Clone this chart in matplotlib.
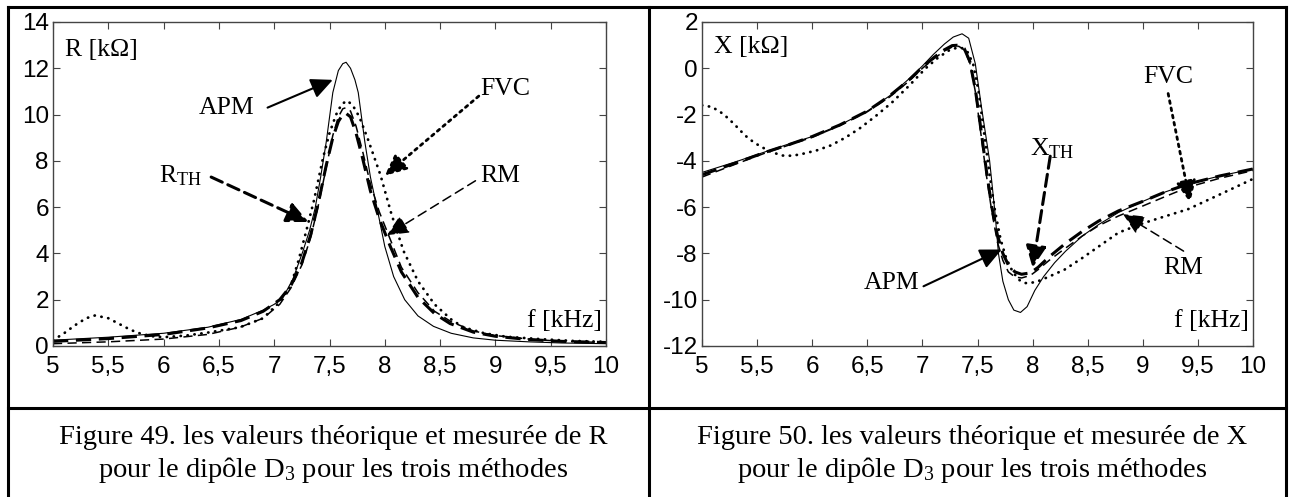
import matplotlib
matplotlib.use("Agg")
import matplotlib.pyplot as plt
from matplotlib.lines import Line2D

plt.rcParams['mathtext.fontset'] = 'custom'
plt.rcParams['mathtext.rm'] = 'Liberation Serif'
plt.rcParams['mathtext.it'] = 'Liberation Serif:italic'
plt.rcParams['axes.unicode_minus'] = False

# ---- data ----
freq_ticks = [5, 5.5, 6, 6.5, 7, 7.5, 8, 8.5, 9, 9.5, 10]
freq_labels = ["5", "5,5", "6", "6,5", "7", "7,5", "8", "8,5", "9", "9,5", "10"]
r_ticks = [0, 2, 4, 6, 8, 10, 12, 14]
x_ticks = [2, 0, -2, -4, -6, -8, -10, -12]

# R [kOhm]
f_r_apm = [5.0, 5.5, 6.0, 6.4, 6.7, 6.9, 7.0, 7.08, 7.17, 7.26, 7.32, 7.37, 7.42, 7.47, 7.53,
           7.58, 7.62, 7.65, 7.69, 7.73, 7.76, 7.82, 7.87, 7.93, 8.0, 8.08, 8.18, 8.3, 8.44,
           8.6, 8.8, 9.0, 9.3, 9.6, 10.0]
r_apm = [0.25, 0.38, 0.55, 0.81, 1.15, 1.55, 1.8, 2.1, 2.9, 4.1, 5.0, 5.95, 7.3, 8.8, 10.95,
         11.9, 12.2, 12.26, 12.0, 11.5, 10.95, 8.8, 7.3, 5.95, 4.3, 3.0, 2.0, 1.3, 0.85,
         0.55, 0.35, 0.25, 0.18, 0.13, 0.1]

f_r_th = [5.0, 5.5, 6.0, 6.4, 6.7, 6.9, 7.05, 7.15, 7.25, 7.33, 7.4, 7.47, 7.53, 7.58, 7.62,
          7.65, 7.69, 7.74, 7.8, 7.87, 7.95, 8.05, 8.15, 8.3, 8.45, 8.59, 8.8, 9.0, 9.3, 9.6, 10.0]
r_th = [0.2, 0.32, 0.5, 0.78, 1.1, 1.5, 2.0, 2.6, 3.6, 4.8, 6.2, 7.8, 9.0, 9.7, 10.0,
        10.05, 9.9, 9.2, 8.1, 6.7, 5.5, 4.3, 3.2, 2.1, 1.4, 0.97, 0.6, 0.42, 0.28, 0.2, 0.15]

f_r_rm = [5.0, 5.5, 6.0, 6.4, 6.69, 6.9, 7.05, 7.15, 7.25, 7.33, 7.4, 7.47, 7.53, 7.58, 7.62,
          7.65, 7.69, 7.74, 7.8, 7.87, 7.95, 8.05, 8.15, 8.3, 8.45, 8.6, 8.8, 9.0, 9.3, 9.6, 10.0]
r_rm = [0.1, 0.18, 0.3, 0.5, 0.81, 1.2, 1.8, 2.5, 3.5, 4.7, 6.1, 7.7, 9.1, 9.9, 10.25,
        10.3, 10.15, 9.5, 8.4, 7.0, 5.8, 4.6, 3.4, 2.3, 1.5, 1.05, 0.65, 0.45, 0.3, 0.2, 0.15]

f_r_fvc = [5.0, 5.1, 5.2, 5.3, 5.38, 5.5, 5.6, 5.7, 5.8, 5.9, 6.0, 6.2, 6.4, 6.69, 6.9, 7.05,
           7.15, 7.22, 7.29, 7.36, 7.44, 7.5, 7.56, 7.61, 7.66, 7.71, 7.77, 7.85, 7.96, 8.06,
           8.17, 8.3, 8.45, 8.6, 8.71, 8.9, 9.1, 9.4, 9.7, 10.0]
r_fvc = [0.25, 0.55, 0.9, 1.2, 1.32, 1.2, 0.95, 0.7, 0.52, 0.42, 0.38, 0.45, 0.58, 0.81, 1.2, 1.9,
         2.6, 3.7, 4.97, 6.3, 8.1, 9.2, 10.0, 10.45, 10.6, 10.4, 9.9, 8.9, 7.4, 5.7,
         4.1, 2.8, 1.8, 1.15, 0.81, 0.55, 0.4, 0.3, 0.22, 0.18]

# X [kOhm]
f_x_apm = [5.0, 5.3, 5.58, 5.8, 6.0, 6.25, 6.5, 6.7, 6.88, 7.0, 7.1, 7.2, 7.28, 7.36, 7.42,
           7.48, 7.54, 7.61, 7.66, 7.69, 7.73, 7.78, 7.83, 7.89, 7.95, 8.02, 8.1, 8.2, 8.3,
           8.45, 8.6, 8.78, 9.0, 9.2, 9.41, 9.7, 10.0]
x_apm = [-4.5, -4.05, -3.6, -3.25, -2.95, -2.45, -1.85, -1.2, -0.45, 0.1, 0.6, 1.05, 1.35, 1.49, 1.3,
         0.2, -1.8, -4.0, -6.3, -8.0, -9.2, -10.0, -10.45, -10.55, -10.3, -9.6, -9.0, -8.4, -7.9,
         -7.25, -6.75, -6.23, -5.75, -5.35, -5.0, -4.65, -4.35]

f_x_th = [5.0, 5.3, 5.58, 5.8, 6.0, 6.25, 6.5, 6.7, 6.88, 7.0, 7.1, 7.2, 7.27, 7.33, 7.38,
          7.43, 7.48, 7.53, 7.58, 7.63, 7.68, 7.73, 7.78, 7.84, 7.9, 7.98, 8.05, 8.15, 8.29,
          8.45, 8.6, 8.78, 9.0, 9.2, 9.41, 9.7, 10.0]
x_th = [-4.6, -4.1, -3.62, -3.28, -2.95, -2.45, -1.85, -1.2, -0.5, 0.05, 0.45, 0.8, 0.98, 1.0, 0.85,
        0.3, -0.9, -2.6, -4.4, -6.0, -7.2, -8.0, -8.5, -8.8, -8.9, -8.84, -8.6, -8.15, -7.6,
        -7.05, -6.6, -6.16, -5.75, -5.35, -5.0, -4.65, -4.35]

f_x_rm = f_x_th
x_rm = [-4.7, -4.15, -3.65, -3.3, -2.98, -2.48, -1.88, -1.25, -0.55, 0.0, 0.4, 0.75, 0.92, 0.95, 0.8,
        0.25, -1.0, -2.8, -4.6, -6.2, -7.5, -8.3, -8.8, -9.02, -9.06, -8.95, -8.7, -8.3, -7.8,
        -7.25, -6.8, -6.38, -5.95, -5.55, -5.14, -4.75, -4.42]

f_x_fvc = [5.0, 5.09, 5.17, 5.24, 5.32, 5.39, 5.47, 5.54, 5.63, 5.73, 5.82, 5.91, 6.04, 6.17,
           6.3, 6.43, 6.58, 6.73, 6.88, 7.03, 7.14, 7.25, 7.31, 7.36, 7.41, 7.46, 7.51, 7.56,
           7.61, 7.66, 7.71, 7.76, 7.82, 7.88, 7.93, 7.98, 8.05, 8.15, 8.29, 8.45, 8.6, 8.78,
           9.0, 9.2, 9.41, 9.7, 10.0]
x_fvc = [-1.6, -1.67, -1.9, -2.17, -2.55, -2.9, -3.2, -3.4, -3.62, -3.77, -3.78, -3.7, -3.55, -3.33,
         -3.0, -2.6, -2.05, -1.45, -0.75, 0.0, 0.45, 0.8, 0.88, 0.87, 0.7, 0.2, -1.0, -2.8,
         -4.6, -6.2, -7.4, -8.2, -8.8, -9.15, -9.28, -9.28, -9.2, -9.0, -8.7, -8.2, -7.7, -7.1,
         -6.7, -6.4, -6.09, -5.45, -4.78]

W, H = 1289, 497
fig = plt.figure(figsize=(W / 100, H / 100), dpi=100)

# line styles for the four methods
sty_apm = dict(color='k', lw=0.8, ls='-')
sty_th = dict(color='k', lw=2.2, ls=(0, (5, 2.5)))
sty_rm = dict(color='k', lw=1.1, ls=(0, (6, 3.5)))
sty_fvc = dict(color='k', lw=2.0, ls=(0, (0.1, 2.4)), dash_capstyle='round')

serif = 'Liberation Serif'
sans = 'Liberation Sans'


def setup_axes(ax, ylim, yticks):
    ax.set_xlim(5, 10)
    ax.set_ylim(*ylim)
    ax.set_xticks(freq_ticks)
    ax.set_xticklabels(freq_labels)
    ax.set_yticks(yticks)
    ax.tick_params(direction='in', length=5, width=0.8, top=True, right=True,
                   color='#444444', labelsize=17.5)
    ax.tick_params(axis='x', pad=7)
    ax.tick_params(axis='y', pad=3)
    for lab in ax.get_xticklabels() + ax.get_yticklabels():
        lab.set_fontfamily(sans)
    for sp in ax.spines.values():
        sp.set_color('#444444')
        sp.set_linewidth(1.0)


def arrow(ax, start, end, lw, ls):
    ax.annotate('', xy=end, xytext=start,
                arrowprops=dict(arrowstyle='-|>,head_length=0.6,head_width=0.28',
                                mutation_scale=22, color='k', lw=lw, ls=ls,
                                shrinkA=0, shrinkB=0))


def label(ax, x, y, s, ha='center', size=18.5):
    ax.text(x, y, s, ha=ha, va='center', fontsize=size, family=serif)


# ---- left panel: R ----
axL = fig.add_axes([53 / W, 1 - 346 / H, 553 / W, 324 / H])
axL.plot(f_r_apm, r_apm, **sty_apm)
axL.plot(f_r_rm, r_rm, **sty_rm)
axL.plot(f_r_fvc, r_fvc, **sty_fvc)
axL.plot(f_r_th, r_th, **sty_th)
setup_axes(axL, (0, 14), r_ticks)

label(axL, 5.11, 12.8, 'R [k\u03a9]', ha='left')
label(axL, 6.57, 10.3, 'APM')
arrow(axL, (6.94, 10.3), (7.53, 11.5), 1.5, '-')
label(axL, 9.09, 11.1, 'FVC')
arrow(axL, (8.85, 10.8), (8.0, 7.36), 2.0, ':')
label(axL, 6.15, 7.36, r'R$_{\mathrm{TH}}$')
arrow(axL, (6.43, 7.3), (7.31, 5.36), 2.2, (0, (4, 2)))
label(axL, 9.04, 7.36, 'RM')
arrow(axL, (8.82, 7.14), (8.02, 4.79), 1.1, (0, (6, 3.5)))
label(axL, 9.96, 1.1, 'f [kHz]', ha='right')

# ---- right panel: X ----
axR = fig.add_axes([702 / W, 1 - 346 / H, 551 / W, 324 / H])
axR.plot(f_x_apm, x_apm, **sty_apm)
axR.plot(f_x_rm, x_rm, **sty_rm)
axR.plot(f_x_fvc, x_fvc, **sty_fvc)
axR.plot(f_x_th, x_th, **sty_th)
setup_axes(axR, (-12, 2), x_ticks)

label(axR, 5.11, 0.94, 'X [k\u03a9]', ha='left')
label(axR, 8.18, -3.48, r'X$_{\mathrm{TH}}$')
arrow(axR, (8.16, -3.8), (8.0, -8.62), 2.2, (0, (4, 2)))
label(axR, 9.23, -0.36, 'FVC')
arrow(axR, (9.23, -1.09), (9.43, -5.8), 2.0, ':')
label(axR, 9.37, -8.62, 'RM')
arrow(axR, (9.37, -7.9), (8.82, -6.3), 1.1, (0, (6, 3.5)))
label(axR, 6.72, -9.28, 'APM')
arrow(axR, (7.01, -9.42), (7.72, -7.83), 1.5, '-')
label(axR, 9.96, -10.93, 'f [kHz]', ha='right')

# ---- table frame ----
frame = [((8, 8), (7, H)), ((1286, 1286), (7, H)), ((8, 1286), (7, 7)),
         ((649, 649), (7, H)), ((8, 1286), (408, 408))]
for xs, ys in frame:
    fig.add_artist(Line2D([x / W for x in xs], [1 - y / H for y in ys],
                          transform=fig.transFigure, color='k', lw=2.2))

# ---- captions ----
cap_l = ['Figure 49. les valeurs th\u00e9orique et mesur\u00e9e de R',
         'pour le dip\u00f4le D$_3$ pour les trois m\u00e9thodes']
cap_r = ['Figure 50. les valeurs th\u00e9orique et mesur\u00e9e de X',
         'pour le dip\u00f4le D$_3$ pour les trois m\u00e9thodes']
for cx, lines in ((333, cap_l), (972, cap_r)):
    for cy, s in zip((438, 470), lines):
        fig.text(cx / W, 1 - cy / H, s, ha='center', va='center', fontsize=20.5, family=serif)

fig.savefig('out.png', dpi=100)
